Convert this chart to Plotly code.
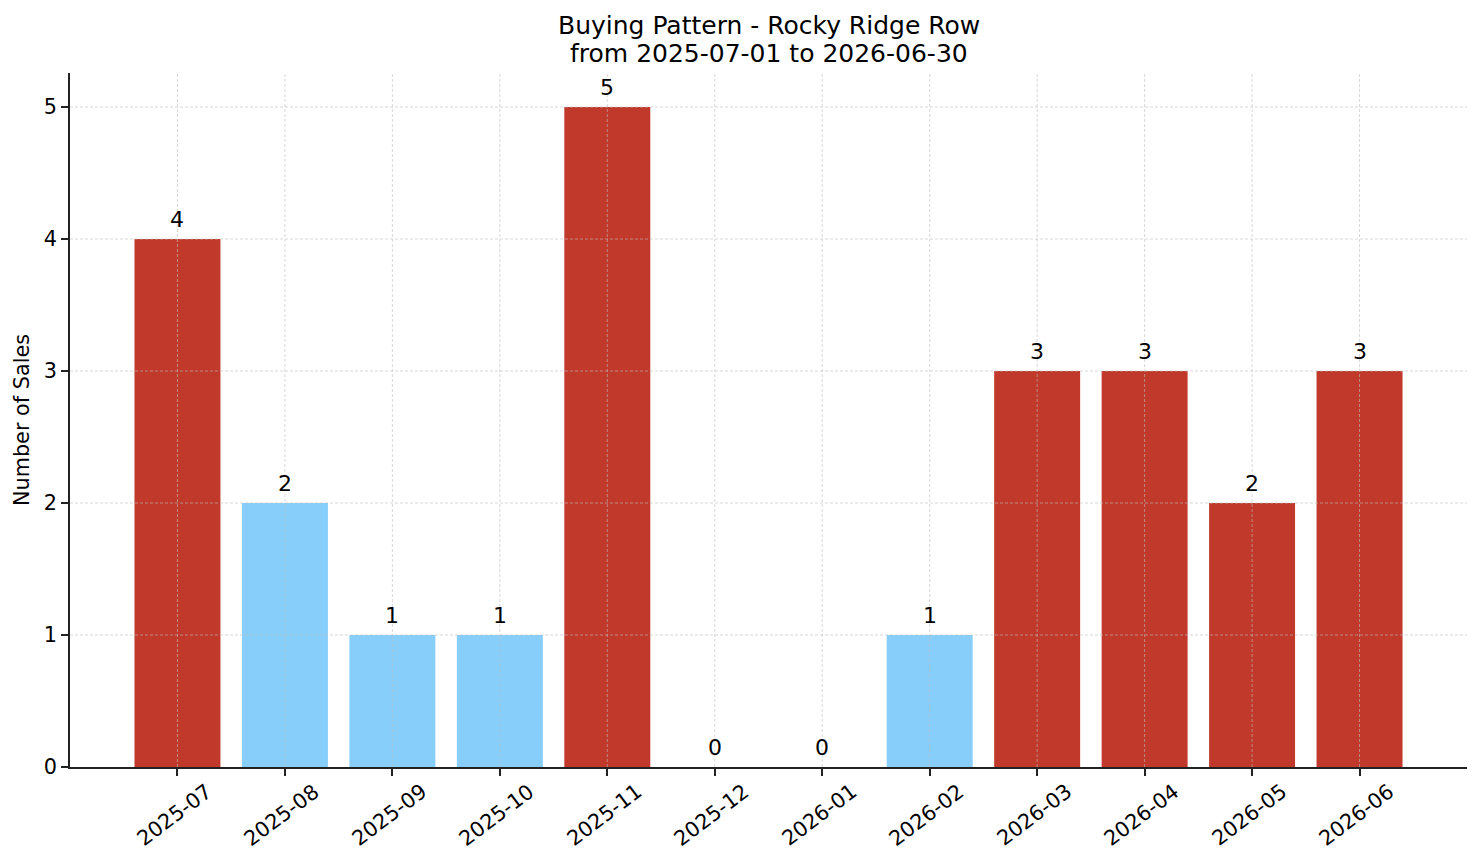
import plotly.graph_objects as go

months = ["2025-07", "2025-08", "2025-09", "2025-10", "2025-11", "2025-12",
          "2026-01", "2026-02", "2026-03", "2026-04", "2026-05", "2026-06"]
sales = [4, 2, 1, 1, 5, 0, 0, 1, 3, 3, 2, 3]
highlight = [True, False, False, False, True, False, False, False, True, True, True, True]
y_ticks = [0, 1, 2, 3, 4, 5]
title_lines = ["Buying Pattern - Rocky Ridge Row", "from 2025-07-01 to 2026-06-30"]

RED = "#c0392b"
BLUE = "#87cefa"
colors = [RED if h else BLUE for h in highlight]
FONT = "DejaVu Sans"
AXC = "#222222"
GRID = "rgba(190,190,190,0.6)"

fig = go.Figure()
fig.add_trace(go.Bar(x=list(range(len(months))), y=sales, marker=dict(color=colors, line=dict(width=0)),
                     width=0.8, showlegend=False, hoverinfo="x+y"))

for i, v in enumerate(sales):
    fig.add_annotation(x=i, y=v, text=str(v), showarrow=False, yanchor="bottom",
                       yshift=5, font=dict(family=FONT, size=22, color="black"))

# rotated, centred tick labels
for i, m in enumerate(months):
    fig.add_annotation(x=i, xref="x", y=0, yref="paper", text=m, showarrow=False,
                       textangle=-37, xanchor="center", yanchor="middle", yshift=-48, xshift=-3,
                       font=dict(family=FONT, size=20.8, color="black"))

# title (two lines)
for k, line in enumerate(title_lines):
    fig.add_annotation(x=0.5, xref="paper", y=1, yref="paper", text=line,
                       showarrow=False, xanchor="center", yanchor="middle", yshift=48 - 28 * k,
                       font=dict(family=FONT, size=25, color="black"))

shapes = []
for i in range(len(months)):
    shapes.append(dict(type="line", xref="x", yref="paper", x0=i, x1=i, y0=0, y1=1,
                       line=dict(color=GRID, width=1, dash="3px,2px"), layer="above"))
for t in y_ticks[1:]:
    shapes.append(dict(type="line", xref="paper", yref="y", x0=0, x1=1, y0=t, y1=t,
                       line=dict(color=GRID, width=1, dash="3px,2px"), layer="above"))
fig.update_layout(shapes=shapes)

fig.update_layout(
    width=1481, height=863,
    margin=dict(l=70, r=14, t=73, b=96),
    paper_bgcolor="white", plot_bgcolor="white",
    font=dict(family=FONT, size=21, color="black"),
    xaxis=dict(range=[-1, 12], tickmode="array", tickvals=list(range(len(months))), ticktext=months,
               showticklabels=False, showgrid=False, zeroline=False, showline=True, linecolor=AXC, linewidth=1.8,
               ticks="outside", ticklen=7, tickwidth=1.6, tickcolor=AXC),
    yaxis=dict(range=[0, 5.258], tickmode="array", tickvals=y_ticks, showgrid=False, zeroline=False,
               showline=True, linecolor=AXC, linewidth=1.8, ticks="outside", ticklen=7, tickwidth=1.6,
               tickcolor=AXC, tickfont=dict(family=FONT, size=20.8, color="black"),
               title=dict(text="Number of Sales", font=dict(family=FONT, size=20.8, color="black"), standoff=8)),
)

fig.write_html("out.html")
